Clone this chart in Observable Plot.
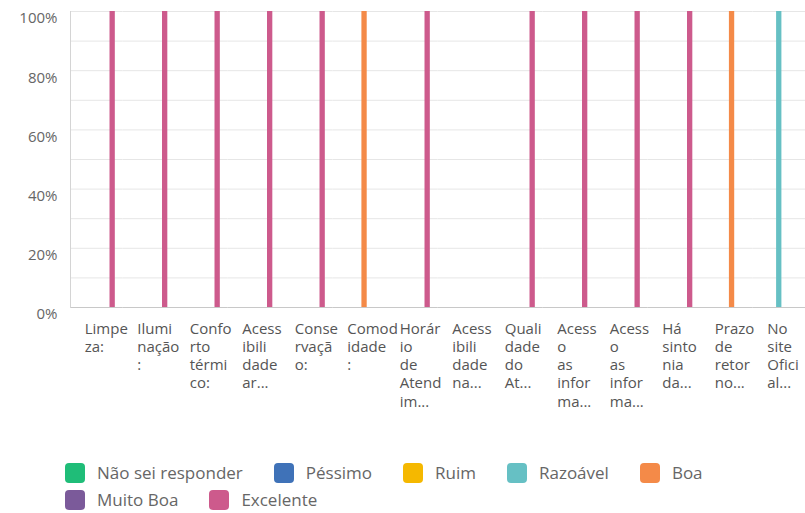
<!DOCTYPE html>
<html>
<head>
<meta charset="utf-8">
<script src="https://cdn.jsdelivr.net/npm/d3@7"></script>
<script src="https://cdn.jsdelivr.net/npm/@observablehq/plot@0.6"></script>
<style>
  body { margin: 0; background: #fff; font-family: "Open Sans", sans-serif; }
  #legend { display: flex; flex-wrap: wrap; width: 740px; padding-left: 65px; margin-top: 9px; }
  .item { display: flex; align-items: center; height: 27px; margin-right: 31px; font-size: 17px; color: #666; }
  .sw { width: 20px; height: 20px; border-radius: 4px; margin-right: 12px; }
</style>
</head>
<body>
<div id="chart"></div>
<div id="legend"></div>
<script>
const categories = [
  "Limpeza:", "Iluminação:", "Conforto térmico:", "Acessibilidade ar...", "Conservação:",
  "Comodidade:", "Horário de Atendim...", "Acessibilidade na...", "Qualidade do At...",
  "Acesso as informa... (1)", "Acesso as informa... (2)", "Há sintonia da...", "Prazo de retorno...", "No site Oficial..."
];
const tickLabels = [
  "Limpe\nza:", "Ilumi\nnação\n:", "Confo\nrto\ntérmi\nco:", "Acess\nibili\ndade\nar...",
  "Conse\nrvaçã\no:", "Comod\nidade\n:", "Horár\nio\nde\nAtend\nim...", "Acess\nibili\ndade\nna...",
  "Quali\ndade\ndo\nAt...", "Acess\no\nas\ninfor\nma...", "Acess\no\nas\ninfor\nma...",
  "Há\nsinto\nnia\nda...", "Prazo\nde\nretor\nno...", "No\nsite\nOfici\nal..."
];
const series = ["Não sei responder", "Péssimo", "Ruim", "Razoável", "Boa", "Muito Boa", "Excelente"];
const colors = ["#1fbd78", "#3f72b8", "#f5b800", "#66c0c4", "#f48a48", "#7b5a9a", "#cd5a8c"];

const naoSei    = [0,0,0,0,0,0,0,0,0,0,0,0,0,0];
const pessimo   = [0,0,0,0,0,0,0,0,0,0,0,0,0,0];
const ruim      = [0,0,0,0,0,0,0,0,0,0,0,0,0,0];
const razoavel  = [0,0,0,0,0,0,0,0,0,0,0,0,0,100];
const boa       = [0,0,0,0,0,100,0,0,0,0,0,0,100,0];
const muitoBoa  = [0,0,0,0,0,0,0,0,0,0,0,0,0,0];
const excelente = [100,100,100,100,100,0,100,0,100,100,100,100,0,0];

const yTicks = [0, 20, 40, 60, 80, 100];
const yGrid = [0, 10, 20, 30, 40, 50, 60, 70, 80, 90, 100];

const seriesValues = [naoSei, pessimo, ruim, razoavel, boa, muitoBoa, excelente];
const rows = [];
categories.forEach((c, i) => {
  series.forEach((s, k) => rows.push({cat: i, series: s, value: seriesValues[k][i]}));
});

const chart = Plot.plot({
  width: 805,
  height: 450,
  marginLeft: 70,
  marginRight: 0,
  marginTop: 11,
  marginBottom: 143,
  style: {fontFamily: "'Open Sans', sans-serif", background: "#fff"},
  fx: {domain: d3.range(categories.length), paddingInner: 0, paddingOuter: 0, round: false},
  x: {domain: series, paddingInner: 0, paddingOuter: 1.45, round: false, axis: null},
  y: {domain: [0, 100]},
  color: {domain: series, range: colors},
  marks: [
    Plot.gridY(yGrid, {stroke: "#e6e6e6", strokeOpacity: 1}),
    Plot.ruleY([0], {stroke: "#c8c8c8"}),
    Plot.frame({anchor: "left", facetAnchor: "left", stroke: "#d4d4d4"}),
    Plot.barY(rows, {fx: "cat", x: "series", y: "value", fill: "series"}),
    Plot.axisY(yTicks, {tickSize: 0, tickPadding: 13, dy: 7, tickFormat: d => d + "%", fontSize: 15, fill: "#666", label: null}),
    Plot.axisFx({anchor: "bottom", tickSize: 0, tickPadding: 13, textAnchor: "start", dx: -12, lineHeight: 1.22,
      fontSize: 15, fill: "#555", tickFormat: i => tickLabels[i], label: null})
  ]
});
document.getElementById("chart").appendChild(chart);

const legend = document.getElementById("legend");
series.forEach((s, k) => {
  const item = document.createElement("div");
  item.className = "item";
  const sw = document.createElement("span");
  sw.className = "sw";
  sw.style.background = colors[k];
  const t = document.createElement("span");
  t.textContent = s;
  item.appendChild(sw);
  item.appendChild(t);
  legend.appendChild(item);
});
</script>
</body>
</html>
